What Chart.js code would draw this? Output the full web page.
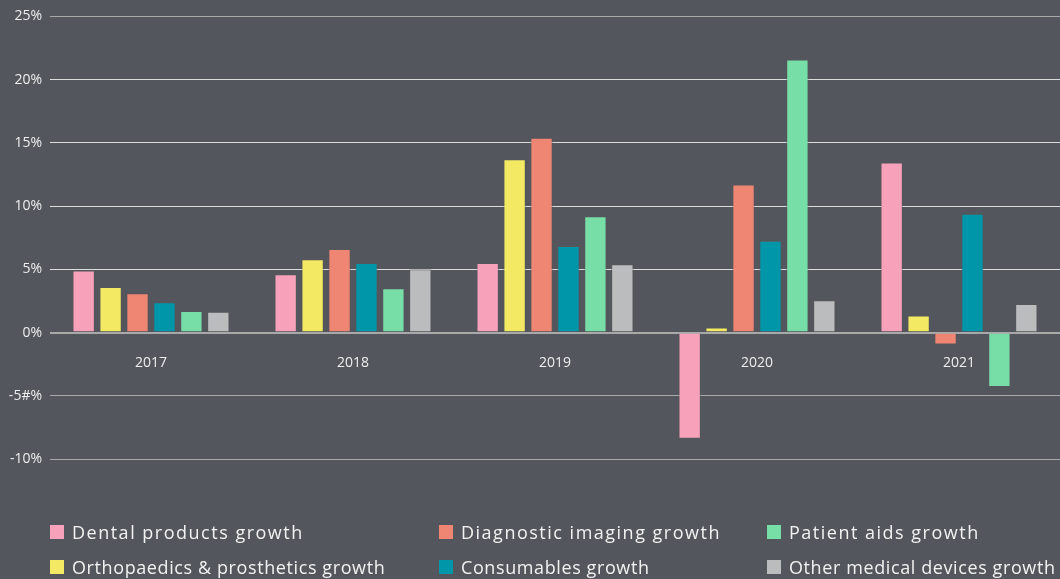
<!DOCTYPE html>
<html>
<head>
<meta charset="utf-8">
<script src="https://cdn.jsdelivr.net/npm/chart.js@4.4.1/dist/chart.umd.min.js"></script>
<style>
  html, body { margin: 0; padding: 0; background: #53565d; }
  #wrap { position: relative; width: 1060px; height: 579px; }
  #legend {
    position: absolute; left: 50px; top: 520px; width: 1010px;
    font-family: "Open Sans", sans-serif; font-size: 18px; letter-spacing: 0.6px;
    color: #f2f2f2;
  }
  .item { position: absolute; white-space: nowrap; display: flex; align-items: center; }
  .item.wide { letter-spacing: 1.5px; }
  .box { width: 14px; height: 14px; margin-right: 8px; }
</style>
</head>
<body>
<div id="wrap">
  <canvas id="growthChart"></canvas>
  <div id="legend"></div>
</div>
<script>
// Data
const years = ['2017', '2018', '2019', '2020', '2021'];
const seriesNames = [
  'Dental products growth',
  'Orthopaedics & prosthetics growth',
  'Diagnostic imaging growth',
  'Consumables growth',
  'Patient aids growth',
  'Other medical devices growth'
];
const dental      = [4.9, 4.6, 5.5, -8.4, 13.45];
const orthopaedic = [3.6, 5.8, 13.7, 0.4, 1.35];
const diagnostic  = [3.1, 6.6, 15.4, 11.7, -0.95];
const consumables = [2.4, 5.5, 6.85, 7.25, 9.4];
const patientAids = [1.7, 3.5, 9.2, 21.6, -4.3];
const otherDevices = [1.65, 5.0, 5.4, 2.55, 2.25];
const yTickLabels = { '-10': '-10%', '-5': '-5#%', '0': '0%', '5': '5%', '10': '10%', '15': '15%', '20': '20%', '25': '25%' };

const colours = ['#f7a2ba', '#f3e963', '#ef8573', '#0096a9', '#77dea8', '#bbbcbe'];
const seriesValues = [dental, orthopaedic, diagnostic, consumables, patientAids, otherDevices];

// Legend is laid out column by column in the original
const legendSlots = [
  { i: 0, x: 0,   y: 0 },
  { i: 1, x: 0,   y: 35 },
  { i: 2, x: 389, y: 0 },
  { i: 3, x: 389, y: 35 },
  { i: 4, x: 717, y: 0 },
  { i: 5, x: 717, y: 35 }
];
const legendNode = document.getElementById('legend');
legendSlots.forEach(s => {
  const el = document.createElement('div');
  el.className = s.y === 0 ? 'item wide' : 'item';
  el.style.left = s.x + 'px';
  el.style.top = s.y + 'px';
  el.innerHTML = '<span class="box" style="background:' + colours[s.i] + '"></span>' + seriesNames[s.i];
  legendNode.appendChild(el);
});

const tickFont = { family: '"Open Sans", sans-serif', size: 14 };

new Chart(document.getElementById('growthChart'), {
  type: 'bar',
  data: {
    labels: years,
    datasets: seriesNames.map((name, i) => ({
      label: name,
      data: seriesValues[i],
      backgroundColor: colours[i],
      borderColor: 'rgba(90,90,90,0.55)',
      borderWidth: 1,
      categoryPercentage: 0.8,
      barPercentage: 0.83
    }))
  },
  options: {
    responsive: true,
    maintainAspectRatio: false,
    animation: false,
    layout: { padding: { top: 8, right: 0, left: 0, bottom: 120 } },
    plugins: { legend: { display: false }, tooltip: { enabled: false } },
    scales: {
      x: {
        position: { y: 0 },
        grid: { display: false },
        border: { display: false },
        ticks: { color: '#eeeeee', font: tickFont, padding: 14 }
      },
      y: {
        min: -10,
        max: 25,
        afterFit: scale => { scale.width = 50; },
        border: { display: false },
        grid: {
          drawTicks: false,
          color: ctx => (ctx.tick && (ctx.tick.value <= 0 || ctx.tick.value === 25)) ? '#a9a9a9' : '#dcdcdc',
          lineWidth: ctx => (ctx.tick && ctx.tick.value === 0) ? 2 : 1
        },
        ticks: {
          stepSize: 5,
          color: '#eeeeee',
          font: tickFont,
          padding: 8,
          callback: v => yTickLabels[String(v)]
        }
      }
    }
  }
});
</script>
</body>
</html>
